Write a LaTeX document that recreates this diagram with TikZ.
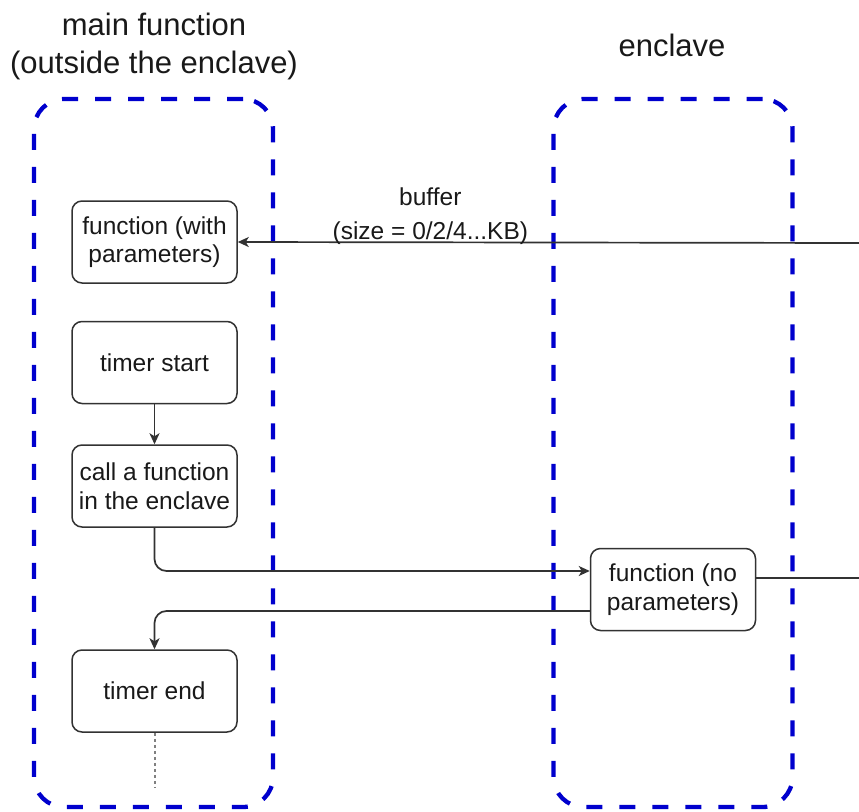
\documentclass[tikz,border=0pt]{standalone}
\usepackage{fontspec}
\setmainfont{Liberation Sans}
\usetikzlibrary{arrows.meta}
\definecolor{zoneblue}{RGB}{0,0,205}
\definecolor{ink}{RGB}{25,25,25}
\definecolor{edge}{RGB}{50,50,50}
\begin{document}
\begin{tikzpicture}[x=1pt,y=-1pt,
  zone/.style={draw=zoneblue, line width=4.3pt, dash pattern=on 16pt off 17pt,
    rounded corners=30pt, minimum width=239pt, minimum height=708pt, inner sep=0pt},
  title/.style={text=ink, align=center, font=\fontsize{31}{38}\selectfont},
  stepbox/.style={draw=edge, line width=1.5pt, rounded corners=10pt, fill=white,
    minimum width=165pt, minimum height=82pt, inner sep=0pt, text=ink, align=center,
    font=\fontsize{24.5}{28.5}\selectfont},
  link/.style={draw=edge, line width=1.7pt},
  tip/.style={-{Stealth[length=11pt,width=10pt,inset=3pt]}},
]
\useasboundingbox (0,0) rectangle (859,811);

% the two regions
\node[zone] (outside) at (153.5,453) {};
\node[zone] (enclave) at (673,453) {};
\node[title] (outsidetitle) at (154,46) {main function\\(outside the enclave)};
\node[title] (enclavetitle) at (672,45) {enclave};

% steps in the main function
\node[stepbox] (fwp) at (154.5,242) {function (with\\parameters)};
\node[stepbox] (tstart) at (154.5,362.5) {timer start};
\node[stepbox] (call) at (154.5,486) {call a function\\in the enclave};
\node[stepbox] (tend) at (154.5,691) {timer end};

% step inside the enclave
\node[stepbox] (fnp) at (673,589.5) {function (no\\parameters)};

% loose ends leaving the right border
\coordinate (bufin) at (859,243);
\coordinate (fnpout) at (859,578);
\coordinate (more) at (154.5,788);

% connectors
\draw[link,tip] (bufin) -- node[above=-6pt, text=ink, align=center,
  font=\fontsize{24.5}{34}\selectfont, pos=0.69] {buffer\\(size = 0/2/4...KB)} (fwp.east);
\draw[link,tip] (tstart.south) -- (call.north);
\draw[link,tip,rounded corners=12pt] (call.south) |- ([yshift=18.5pt]fnp.west);
\draw[link,tip,rounded corners=12pt] ([yshift=-21.5pt]fnp.west) -| (tend.north);
\draw[link] ([yshift=11.5pt]fnp.east) -- (fnpout);
\draw[draw=gray, line width=2pt, dash pattern=on 3pt off 3pt] (tend.south) -- (more);
\end{tikzpicture}
\end{document}
